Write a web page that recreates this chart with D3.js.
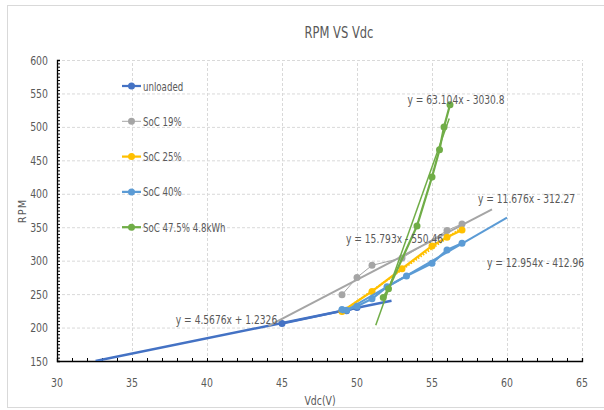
<!DOCTYPE html>
<html>
<head>
<meta charset="utf-8">
<script src="https://cdn.jsdelivr.net/npm/d3@7"></script>
<style>
  body{margin:0;background:#fff;}
  text{font-family:"Liberation Sans Narrow","DejaVu Sans Condensed",sans-serif;fill:#595959;}
</style>
</head>
<body>
<div id="chart"></div>
<script>
// RPM vs Vdc, measured points + linear trendlines per battery state
const seriesNames = ['unloaded','SoC 19%','SoC 25%','SoC 40%','SoC 47.5% 4.8kWh'];
const seriesColors = ['#4472C4','#A5A5A5','#FFC000','#5B9BD5','#70AD47'];

const unloadedV = [45, 49, 49.3, 50];
const unloadedRPM = [206, 225, 225, 230];
const soc19V = [49, 50, 51, 53, 56, 57];
const soc19RPM = [249, 275, 293, 304, 345, 355];
const soc25V = [49, 51, 53, 55, 56, 57];
const soc25RPM = [224, 254, 288, 322, 335, 346];
const soc40V = [49, 49.3, 50, 51, 52, 53.3, 55, 56, 57];
const soc40RPM = [227, 226, 232, 243, 261, 277, 296, 316, 326];
const soc475V = [51.75, 52.1, 54, 55, 55.5, 55.8, 56.2];
const soc475RPM = [245, 258, 352, 425, 466, 500, 533];

// trendlines (from the chart's equations) and the x span each one covers
const trendSlope = [4.5676, 11.676, 15.793, 12.954, 63.104];
const trendIntercept = [1.2326, -312.27, -550.46, -412.96, -3030.8];
const trendFrom = [32.57, 44.1, 49, 49, 51.25];
const trendTo = [52.3, 59, 57, 60, 56.15];

const xTicks = [30, 35, 40, 45, 50, 55, 60, 65];
const yTicks = [150, 200, 250, 300, 350, 400, 450, 500, 550, 600];

const seriesV = [unloadedV, soc19V, soc25V, soc40V, soc475V];
const seriesRPM = [unloadedRPM, soc19RPM, soc25RPM, soc40RPM, soc475RPM];

// where the equation labels sit, in data units (centre of text)
const eqPos = [[41.3, 213], [61.3, 394], [52.5, 334], [61.9, 298], [56.6, 542]];

const W = 604, H = 410;
const margin = {left:57, top:60, right:22, bottom:49};
const svg = d3.select('#chart').append('svg').attr('width',W).attr('height',H);

svg.append('rect').attr('x',7.5).attr('y',5.5).attr('width',620).attr('height',402)
  .attr('fill','#fff').attr('stroke','#d9d9d9');

const x = d3.scaleLinear().domain([30,65]).range([margin.left, W-margin.right]);
const y = d3.scaleLinear().domain([150,600]).range([H-margin.bottom, margin.top]);

// condensed text: squeeze horizontally to mimic the narrow chart font
function label(g, tx, ty, str, size, anchor, sx){
  return g.append('text')
    .attr('transform',`translate(${tx},${ty}) scale(${sx||0.8},1)`)
    .attr('text-anchor',anchor||'middle').attr('font-size',size).text(str);
}

svg.append('defs').append('clipPath').attr('id','plotclip')
  .append('rect').attr('x',x(30)).attr('y',y(600)).attr('width',x(65)-x(30)).attr('height',y(150)-y(600));

// grid
const grid = svg.append('g');
grid.selectAll('line.h').data(yTicks.slice(1)).enter().append('line')
  .attr('x1',x(30)).attr('x2',x(65)).attr('y1',d=>y(d)+0.5).attr('y2',d=>y(d)+0.5)
  .attr('stroke','#d9d9d9').attr('stroke-dasharray','3,2');
grid.selectAll('line.v').data(xTicks.slice(1)).enter().append('line')
  .attr('y1',y(150)).attr('y2',y(600)).attr('x1',d=>x(d)+0.5).attr('x2',d=>x(d)+0.5)
  .attr('stroke','#d9d9d9').attr('stroke-dasharray','3,2');

// axes with inside minor ticks
const xAxis = svg.append('g').attr('transform',`translate(0,${y(150)})`)
  .call(d3.axisBottom(x).tickValues(d3.range(30,65.01,1)).tickSize(-3).tickFormat(''));
const yAxis = svg.append('g').attr('transform',`translate(${x(30)},0)`)
  .call(d3.axisLeft(y).tickValues(d3.range(150,600.01,5)).tickSize(-3).tickFormat(''));
[xAxis,yAxis].forEach(a=>{
  a.select('.domain').attr('stroke','#000').attr('stroke-width',1.3);
  a.selectAll('.tick line').attr('stroke','#000');
});

const tl = svg.append('g');
xTicks.forEach(d=>label(tl, x(d), y(150)+26, d, 13, 'middle'));
yTicks.forEach(d=>label(tl, x(30)-9, y(d)+4.5, d, 13, 'end'));

const plot = svg.append('g').attr('clip-path','url(#plotclip)');
const line = d3.line().x(d=>x(d[0])).y(d=>y(d[1]));

seriesNames.forEach((name,i)=>{
  const pts = seriesV[i].map((v,k)=>[v, seriesRPM[i][k]]);
  const c = seriesColors[i];
  plot.append('path').datum(pts).attr('d',line).attr('fill','none')
    .attr('stroke',c).attr('stroke-width', i===1 ? 1 : 2.25);
  plot.selectAll(null).data(pts).enter().append('circle')
    .attr('cx',d=>x(d[0])).attr('cy',d=>y(d[1])).attr('r',3.5).attr('fill',c);
  const t = [trendFrom[i], trendTo[i]].map(v=>[v, trendSlope[i]*v + trendIntercept[i]]);
  plot.append('path').datum(t).attr('d',line).attr('fill','none')
    .attr('stroke',c)
    .attr('stroke-width', i===0 ? 2.5 : (i===4 ? 1.5 : 2))
    .attr('stroke-dasharray', i===2 ? '1.5,1.5' : null);
});

// equation labels
const fmt = i => {
  const b = trendIntercept[i];
  return `y = ${trendSlope[i]}x ${b<0?'-':'+'} ${Math.abs(b)}`;
};
const eq = svg.append('g');
eqPos.forEach((d,i)=>label(eq, x(d[0]), y(d[1])+5, fmt(i), 13, 'middle', 0.78));

// legend
const lg = svg.append('g');
seriesNames.forEach((name,i)=>{
  const ly = 86 + i*35.3;
  lg.append('line').attr('x1',122).attr('x2',141).attr('y1',ly).attr('y2',ly)
    .attr('stroke',seriesColors[i]).attr('stroke-width', i===1 ? 1 : 2.25);
  lg.append('circle').attr('cx',131.5).attr('cy',ly).attr('r',3.5).attr('fill',seriesColors[i]);
  label(lg, 143, ly+4.5, name, 12, 'start', 0.8);
});

label(svg, 339, 38, 'RPM VS Vdc', 16, 'middle', 0.8);
label(svg, 320, 405, 'Vdc(V)', 13, 'middle', 0.8);
svg.append('text').attr('transform','translate(26,211) rotate(-90)').attr('text-anchor','middle')
  .attr('font-family','Liberation Sans, sans-serif').attr('font-size',11)
  .attr('letter-spacing',1).text('RPM');
</script>
</body>
</html>
